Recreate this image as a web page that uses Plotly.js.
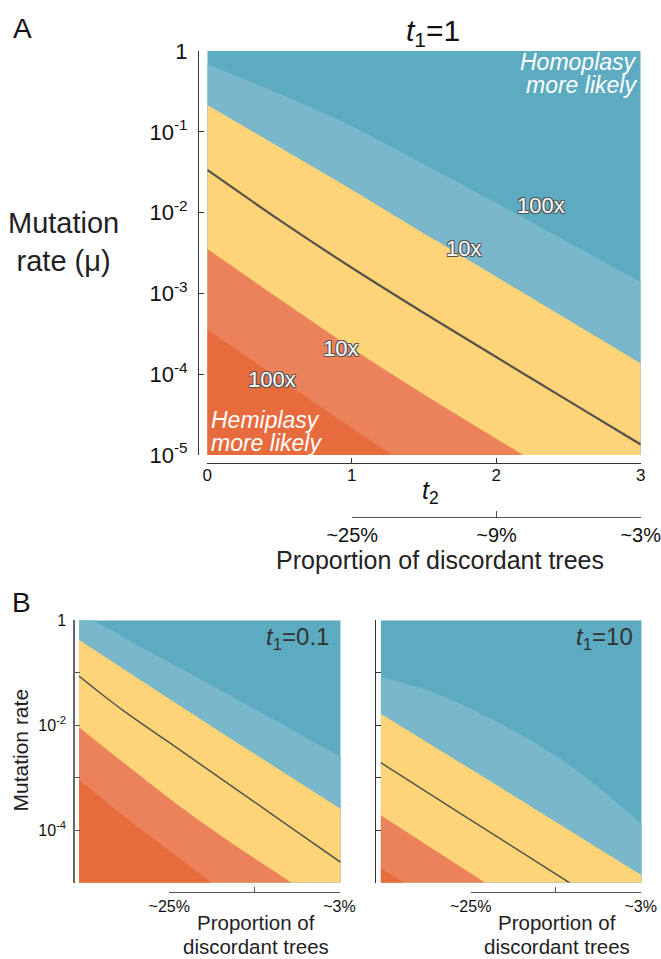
<!DOCTYPE html>
<html>
<head>
<meta charset="utf-8">
<script src="https://cdn.plot.ly/plotly-3.0.1.min.js"></script>
<style>html,body{margin:0;padding:0;background:#fff;}#chart{width:661px;height:959px;}</style>
</head>
<body>
<div id="chart"></div>
<script>
// ---------- data ----------
const T2_RANGE = [0, 3];
const MU_RANGE = [1e-5, 1];
const MU_TICKS = [1, 1e-1, 1e-2, 1e-3, 1e-4, 1e-5];
const MU_TICKTEXT_A = ['1', '10<sup>-1</sup>', '10<sup>-2</sup>', '10<sup>-3</sup>', '10<sup>-4</sup>', '10<sup>-5</sup>'];
const MU_TICKTEXT_B = ['1', '', '10<sup>-2</sup>', '', '10<sup>-4</sup>', ''];
const T2_TICKS = [0, 1, 2, 3];
const PROP_TICKS = [1, 2, 3];
const PROP_TEXT_A = ['~25%', '~9%', '~3%'];
const PROP_TEXT_B = ['~25%', '', '~3%'];

// Panel A, t1 = 1  (boundary curves: t2 and mutation rate)
const A_homo100_t2 = [0, 0.5, 1.0, 1.5, 2.0, 2.5, 3];
const A_homo100_mu = [0.684, 0.295, 0.1175, 0.0398, 0.01318, 0.00427, 0.00139];
const A_homo10_t2 = [0, 0.5, 0.85, 1.2, 1.577, 2.2, 3];
const A_homo10_mu = [0.215, 0.0646, 0.0278, 0.01167, 0.00458, 0.000984, 0.000136];
const A_equal_t2 = [0, 0.5, 1.0, 1.5, 2.0, 2.5, 3];
const A_equal_mu = [0.0337, 0.00807, 0.002075, 0.000571, 0.000163, 4.68e-5, 1.35e-5];
const A_hemi10_t2 = [0, 0.5, 1.0, 1.5, 2.186];
const A_hemi10_mu = [0.00355, 0.000851, 0.000209, 5.62e-5, 1e-5];
const A_hemi100_t2 = [0, 0.446, 0.85, 1.279];
const A_hemi100_mu = [3.52e-4, 1.02e-4, 3.28e-5, 1e-5];

// Panel B left, t1 = 0.1
const B1_homo100_t2 = [0.126, 0.814, 1.387, 2.075, 3];
const B1_homo100_mu = [1, 0.248, 0.0759, 0.0178, 0.00249];
const B1_homo10_t2 = [0, 1, 2, 3];
const B1_homo10_mu = [0.427, 0.0347, 0.00295, 0.000254];
const B1_equal_t2 = [0, 0.25, 0.5, 1, 1.5, 2, 2.5, 3];
const B1_equal_mu = [0.0865, 0.0403, 0.0195, 0.00513, 0.00135, 0.000355, 9.33e-5, 2.45e-5];
const B1_hemi10_t2 = [0, 0.5, 1.2, 1.8, 2.438];
const B1_hemi10_mu = [0.0092, 0.002, 0.000251, 5.0e-5, 1e-5];
const B1_hemi100_t2 = [0, 0.4, 0.9, 1.521];
const B1_hemi100_mu = [9.25e-4, 2.63e-4, 6.03e-5, 1e-5];

// Panel B right, t1 = 10
const B2_homo100_t2 = [0, 0.644, 1.448, 2.176, 3];
const B2_homo100_mu = [0.0832, 0.04, 0.00927, 0.00172, 0.000133];
const B2_homo10_t2 = [0, 1, 2, 3];
const B2_homo10_mu = [0.01663, 0.00158, 0.000148, 1.38e-5];
const B2_equal_t2 = [0, 1, 2.169];
const B2_equal_mu = [0.00194, 0.00017, 1e-5];
const B2_hemi10_t2 = [0, 0.6, 1.2];
const B2_hemi10_mu = [1.92e-4, 4.37e-5, 1e-5];
const B2_hemi100_t2 = [0, 0.27];
const B2_hemi100_mu = [1.9e-5, 1e-5];

// ---------- styles ----------
const FONT = '"Liberation Sans", Arial, Helvetica, sans-serif';
const C_DARKBLUE = '#5DABC1';
const C_LIGHTBLUE = '#79B7CB';
const C_YELLOW = '#FDD477';
const C_ORANGE = '#EC8259';
const C_DARKORANGE = '#E86B3D';
const C_LINE = '#57524a';
const W = 661, H = 959;
const px = v => v / W;
const py = v => 1 - v / H;

function hide(t) { return Object.assign(t, {hoverinfo: 'skip', showlegend: false}); }
// area below a boundary curve: invisible bottom edge + smoothed curve filled down to it
function bandBelow(t2, mu, color, xa, ya) {
  const xs = t2.slice(), ys = mu.slice();
  if (xs[0] > T2_RANGE[0]) { xs.unshift(T2_RANGE[0]); ys.unshift(MU_RANGE[1]); }
  return [
    hide({type: 'scatter', mode: 'lines', x: T2_RANGE, y: [MU_RANGE[0], MU_RANGE[0]],
          line: {width: 0, color: color}, xaxis: xa, yaxis: ya}),
    hide({type: 'scatter', mode: 'lines', x: xs, y: ys, fill: 'tonexty', fillcolor: color,
          line: {width: 0, color: color, shape: 'spline', smoothing: 0.9}, xaxis: xa, yaxis: ya})
  ];
}
function rectTrace(color, xa, ya) {
  return hide({type: 'scatter', mode: 'lines', fill: 'toself', fillcolor: color, line: {width: 0, color: color},
               x: [T2_RANGE[0], T2_RANGE[1], T2_RANGE[1], T2_RANGE[0]],
               y: [MU_RANGE[0], MU_RANGE[0], MU_RANGE[1], MU_RANGE[1]], xaxis: xa, yaxis: ya});
}
function panel(d, xa, ya, lw) {
  return [].concat(
    [rectTrace(C_DARKBLUE, xa, ya)],
    bandBelow(d.h100t, d.h100m, C_LIGHTBLUE, xa, ya),
    bandBelow(d.h10t, d.h10m, C_YELLOW, xa, ya),
    bandBelow(d.e10t, d.e10m, C_ORANGE, xa, ya),
    bandBelow(d.e100t, d.e100m, C_DARKORANGE, xa, ya),
    [hide({type: 'scatter', mode: 'lines', x: d.eqt, y: d.eqm,
           line: {color: C_LINE, width: lw, shape: 'spline', smoothing: 0.9}, xaxis: xa, yaxis: ya})]
  );
}
function dummy(xa, ya, x, y) {
  return hide({type: 'scatter', mode: 'markers', x: [x], y: [y], marker: {opacity: 0}, xaxis: xa, yaxis: ya});
}

const traces = [].concat(
  panel({h100t: A_homo100_t2, h100m: A_homo100_mu, h10t: A_homo10_t2, h10m: A_homo10_mu,
         eqt: A_equal_t2, eqm: A_equal_mu, e10t: A_hemi10_t2, e10m: A_hemi10_mu,
         e100t: A_hemi100_t2, e100m: A_hemi100_mu}, 'x', 'y', 2.2),
  panel({h100t: B1_homo100_t2, h100m: B1_homo100_mu, h10t: B1_homo10_t2, h10m: B1_homo10_mu,
         eqt: B1_equal_t2, eqm: B1_equal_mu, e10t: B1_hemi10_t2, e10m: B1_hemi10_mu,
         e100t: B1_hemi100_t2, e100m: B1_hemi100_mu}, 'x4', 'y4', 1.5),
  panel({h100t: B2_homo100_t2, h100m: B2_homo100_mu, h10t: B2_homo10_t2, h10m: B2_homo10_mu,
         eqt: B2_equal_t2, eqm: B2_equal_mu, e10t: B2_hemi10_t2, e10m: B2_hemi10_mu,
         e100t: B2_hemi100_t2, e100m: B2_hemi100_mu}, 'x7', 'y7', 1.5),
  [dummy('x2', 'y', 1, 0.1), dummy('x', 'y2', 1, 0.1), dummy('x3', 'y3', 2, 0.5),
   dummy('x4', 'y5', 1, 0.1), dummy('x6', 'y6', 2, 0.5),
   dummy('x7', 'y8', 1, 0.1), dummy('x9', 'y9', 2, 0.5)]
);

const hidden = {visible: false, fixedrange: true, showgrid: false, zeroline: false};
const deco = {showgrid: false, zeroline: false, fixedrange: true, showline: true, ticks: 'inside',
              ticklabeloverflow: 'allow'};

const domA_x = [px(207.3), px(640.7)], domA_y = [py(455), py(51)];
const domB1_x = [px(79), px(340.7)], domB2_x = [px(380.7), px(641.7)], domB_y = [py(882.7), py(620.3)];

const layout = {
  width: W, height: H, margin: {l: 0, r: 0, t: 0, b: 0},
  paper_bgcolor: '#ffffff', plot_bgcolor: 'rgba(0,0,0,0)', showlegend: false,
  font: {family: FONT, color: '#222'},
  title: {text: '<i>t</i><sub>1</sub>=1', x: px(433), xanchor: 'center', y: py(30), yanchor: 'middle',
          font: {family: FONT, size: 30, color: '#111'}},
  // Panel A data axes
  xaxis: Object.assign({}, hidden, {domain: domA_x, range: T2_RANGE}),
  yaxis: Object.assign({}, hidden, {domain: domA_y, type: 'log', range: [-5, 0]}),
  // Panel A decorative offset axes
  xaxis2: Object.assign({}, deco, {overlaying: 'x', anchor: 'free', position: py(462.7), range: T2_RANGE,
          tickmode: 'array', tickvals: T2_TICKS, ticktext: T2_TICKS.map(String), ticklen: 5, tickwidth: 1.2,
          ticklabelstandoff: -3,
          tickcolor: '#333', linecolor: '#333', linewidth: 1.2, tickfont: {size: 17, color: '#111'}}),
  yaxis2: Object.assign({}, deco, {overlaying: 'y', anchor: 'free', position: px(198), side: 'left', type: 'log',
          range: [-5, 0], tickmode: 'array', tickvals: MU_TICKS, ticktext: MU_TICKTEXT_A, ticklen: 5, tickwidth: 1.2,
          ticklabelstandoff: 6,
          tickcolor: '#333', linecolor: '#333', linewidth: 1.2, tickfont: {size: 22, color: '#111'}}),
  // Panel A proportion axis
  xaxis3: Object.assign({}, deco, {domain: [px(352.3), px(640.7)], anchor: 'free', position: py(517), range: [1, 3],
          tickmode: 'array', tickvals: PROP_TICKS, ticktext: PROP_TEXT_A, ticklen: 6, tickwidth: 1.2,
          tickcolor: '#555', linecolor: '#555', linewidth: 1.2, tickfont: {size: 20, color: '#111'}}),
  yaxis3: Object.assign({}, hidden, {domain: [0.4, 0.45], range: [0, 1]}),
  // Panel B left
  xaxis4: Object.assign({}, hidden, {domain: domB1_x, range: T2_RANGE}),
  yaxis4: Object.assign({}, hidden, {domain: domB_y, type: 'log', range: [-5, 0]}),
  yaxis5: Object.assign({}, deco, {overlaying: 'y4', anchor: 'free', position: px(73.3), side: 'left', type: 'log',
          range: [-5, 0], tickmode: 'array', tickvals: MU_TICKS, ticktext: MU_TICKTEXT_B, ticklen: 5, tickwidth: 1.2,
          ticklabelstandoff: 4,
          tickcolor: '#555', linecolor: '#666', linewidth: 1.5, tickfont: {size: 16, color: '#111'}}),
  xaxis6: Object.assign({}, deco, {domain: [px(169.3), px(339.5)], anchor: 'free', position: py(891.5), range: [1, 3],
          tickmode: 'array', tickvals: PROP_TICKS, ticktext: PROP_TEXT_B, ticklen: 5, tickwidth: 1.2,
          tickcolor: '#555', linecolor: '#555', linewidth: 1.2, tickfont: {size: 16, color: '#111'}}),
  yaxis6: Object.assign({}, hidden, {domain: [0.0, 0.05], range: [0, 1]}),
  // Panel B right
  xaxis7: Object.assign({}, hidden, {domain: domB2_x, range: T2_RANGE}),
  yaxis7: Object.assign({}, hidden, {domain: domB_y, type: 'log', range: [-5, 0]}),
  yaxis8: Object.assign({}, deco, {overlaying: 'y7', anchor: 'free', position: px(375), side: 'left', type: 'log',
          range: [-5, 0], tickmode: 'array', tickvals: MU_TICKS, showticklabels: false, ticklen: 5, tickwidth: 1.2,
          tickcolor: '#333', linecolor: '#333', linewidth: 1.2}),
  xaxis9: Object.assign({}, deco, {domain: [px(470.7), px(640.7)], anchor: 'free', position: py(891.5), range: [1, 3],
          tickmode: 'array', tickvals: PROP_TICKS, ticktext: PROP_TEXT_B, ticklen: 5, tickwidth: 1.2,
          tickcolor: '#555', linecolor: '#555', linewidth: 1.2, tickfont: {size: 16, color: '#111'}}),
  yaxis9: Object.assign({}, hidden, {domain: [0.0, 0.05], range: [0, 1]}),
  annotations: []
};

const OUTLINE = '-1px -1px 0 #555, 1px -1px 0 #555, -1px 1px 0 #555, 1px 1px 0 #555';
function paperText(text, x, y, size, opts) {
  return Object.assign({text: text, xref: 'paper', yref: 'paper', x: px(x), y: py(y), showarrow: false,
                        xanchor: 'center', yanchor: 'middle', borderpad: 0,
                        font: {family: FONT, size: size, color: '#222'}}, opts || {});
}
function contourLabel(text, t2, mu) {
  return {text: text, xref: 'x', yref: 'y', x: t2, y: Math.log10(mu), showarrow: false,
          font: {family: FONT, size: 22, color: '#ffffff', shadow: OUTLINE}};
}
const WHITE_IT = {family: FONT, size: 23, color: '#ffffff'};
layout.annotations.push(
  paperText('A', 22, 29, 28, {font: {family: FONT, size: 28, color: '#111'}}),
  paperText('B', 21, 602, 28, {font: {family: FONT, size: 28, color: '#111'}}),
  paperText('Mutation<br>rate (\u03bc)', 63, 242, 29),
  paperText('<i>t</i><sub>2</sub>', 430, 492, 25, {font: {family: FONT, size: 25, color: '#111'}}),
  paperText('Proportion of discordant trees', 440, 560, 25),
  paperText('<i>Homoplasy</i>', 638, 62, 23, {xanchor: 'right', font: WHITE_IT}),
  paperText('<i>more likely</i>', 638, 85, 23, {xanchor: 'right', font: WHITE_IT}),
  paperText('<i>Hemiplasy</i>', 210, 420, 23, {xanchor: 'left', font: WHITE_IT}),
  paperText('<i>more likely</i>', 210, 443, 23, {xanchor: 'left', font: WHITE_IT}),
  contourLabel('100x', 2.309, 0.01208),
  contourLabel('10x', 1.773, 0.00355),
  contourLabel('10x', 0.919, 2.09e-4),
  contourLabel('100x', 0.446, 8.65e-5),
  paperText('Mutation rate', 19.5, 750, 21, {textangle: -90}),
  paperText('Proportion of', 256, 922, 20.5),
  paperText('discordant trees', 256, 946, 20.5),
  paperText('Proportion of', 557, 922, 20.5),
  paperText('discordant trees', 557, 946, 20.5),
  paperText('<i>t</i><sub>1</sub>=0.1', 330, 638, 24, {xanchor: 'right', font: {family: FONT, size: 24, color: '#333'}}),
  paperText('<i>t</i><sub>1</sub>=10', 634, 638, 24, {xanchor: 'right', font: {family: FONT, size: 24, color: '#333'}})
);

Plotly.newPlot('chart', traces, layout, {staticPlot: true, displayModeBar: false});
</script>
</body>
</html>
